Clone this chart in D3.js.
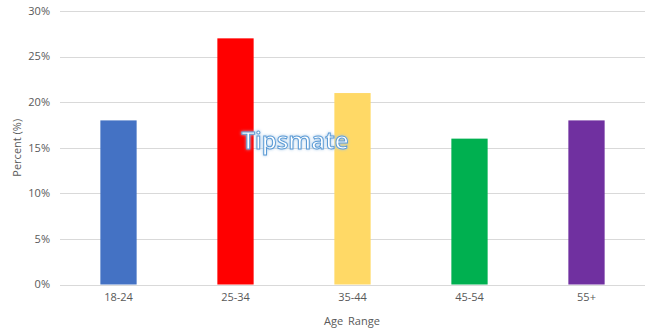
<!DOCTYPE html>
<html>
<head>
<meta charset="utf-8">
<script src="https://cdn.jsdelivr.net/npm/d3@7"></script>
<style>
  body { margin: 0; background: #fff; }
  text { font-family: "Open Sans", "Noto Sans", sans-serif; fill: #595959; }
</style>
</head>
<body>
<div id="chart"></div>
<script>
var ageRanges = ["18-24", "25-34", "35-44", "45-54", "55+"];
var percents = [18, 27, 21, 16, 18];
var barColors = ["#4472C4", "#FF0000", "#FFD966", "#00B050", "#7030A0"];
var yTicks = [0, 5, 10, 15, 20, 25, 30];

var width = 648,
    height = 333,
    margin = {top: 11, right: 3, bottom: 48, left: 60};

var svg = d3.select("#chart")
    .append("svg")
    .attr("width", width)
    .attr("height", height);

var x = d3.scaleBand()
    .domain(ageRanges)
    .range([margin.left, width - margin.right])
    .paddingInner(0.69)
    .paddingOuter(0.345);

var y = d3.scaleLinear()
    .domain([0, 30])
    .range([height - margin.bottom - 0.5, margin.top]);

// gridlines
svg.append("g")
    .selectAll("line")
    .data(yTicks)
    .enter().append("line")
    .attr("x1", margin.left)
    .attr("x2", width - margin.right)
    .attr("y1", function(d) { return Math.round(y(d)) + 0.5 })
    .attr("y2", function(d) { return Math.round(y(d)) + 0.5 })
    .attr("stroke", "#d9d9d9")
    .attr("stroke-width", 1);

// y tick labels
svg.append("g")
    .selectAll("text")
    .data(yTicks)
    .enter().append("text")
    .attr("x", margin.left - 10)
    .attr("y", function(d) { return y(d) })
    .attr("dy", "0.35em")
    .attr("text-anchor", "end")
    .style("font-size", "11px")
    .text(function(d) { return d + "%" });

// bars
svg.append("g")
    .selectAll("rect")
    .data(percents)
    .enter().append("rect")
    .attr("x", function(d, i) { return x(ageRanges[i]) })
    .attr("width", x.bandwidth())
    .attr("y", function(d) { return y(d) })
    .attr("height", function(d) { return y(0) - y(d) })
    .attr("fill", function(d, i) { return barColors[i] });

// baseline over bars
svg.append("line")
    .attr("x1", margin.left)
    .attr("x2", width - margin.right)
    .attr("y1", Math.round(y(0)) + 0.5)
    .attr("y2", Math.round(y(0)) + 0.5)
    .attr("stroke", "#d9d9d9");

// x tick labels
svg.append("g")
    .selectAll("text")
    .data(ageRanges)
    .enter().append("text")
    .attr("x", function(d) { return x(d) + x.bandwidth() / 2 })
    .attr("y", y(0) + 16)
    .attr("text-anchor", "middle")
    .style("font-size", "11px")
    .text(function(d) { return d });

// axis titles
svg.append("text")
    .attr("x", 352)
    .attr("y", 325)
    .attr("text-anchor", "middle")
    .style("font-size", "11px")
    .style("word-spacing", "2px")
    .text("Age Range");

svg.append("text")
    .attr("transform", "translate(21," + ((margin.top + y(0)) / 2) + ") rotate(-90)")
    .attr("text-anchor", "middle")
    .style("font-size", "11px")
    .text("Percent (%)");

// watermark
var defs = svg.append("defs");
var glow = defs.append("filter").attr("id", "glow")
    .attr("x", "-20%").attr("y", "-40%").attr("width", "140%").attr("height", "180%");
glow.append("feGaussianBlur").attr("in", "SourceAlpha").attr("stdDeviation", 1.5).attr("result", "b");
glow.append("feFlood").attr("flood-color", "#9dc3e6").attr("result", "c");
glow.append("feComposite").attr("in", "c").attr("in2", "b").attr("operator", "in").attr("result", "g");
var m = glow.append("feMerge");
m.append("feMergeNode").attr("in", "g");
m.append("feMergeNode").attr("in", "SourceGraphic");

svg.append("text")
    .attr("x", 295)
    .attr("y", 149)
    .attr("text-anchor", "middle")
    .attr("filter", "url(#glow)")
    .style("font-size", "24px")
    .style("font-weight", "600")
    .style("fill", "#ffffff")
    .style("stroke", "#5b9bd5")
    .style("stroke-width", 1)
    .text("Tipsmate");
</script>
</body>
</html>
